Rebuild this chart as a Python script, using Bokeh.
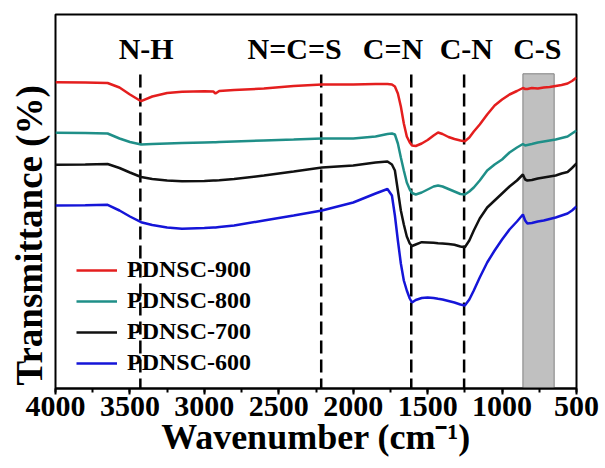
from bokeh.plotting import figure
from bokeh.models import Range1d, SingleIntervalTicker, Legend, LegendItem, Title
from bokeh.embed import file_html
from bokeh.resources import INLINE
from bokeh.core.properties import value

# ---- data (transmittance in arbitrary units, curves offset as in the figure) ----
wavenumber = [4000, 3800, 3650, 3570, 3500, 3425, 3350, 3250, 3150, 3000, 2940, 2925, 2900,
              2800, 2600, 2400, 2210, 2000, 1850, 1770, 1740, 1720, 1700, 1680, 1660, 1640,
              1620, 1605, 1580, 1540, 1500, 1460, 1430, 1400, 1360, 1320, 1280, 1250, 1220,
              1190, 1150, 1100, 1050, 1000, 950, 900, 860, 845, 830, 800, 760, 720, 680, 640,
              600, 560, 530, 500]

pdnsc_900 = [306.3, 306, 305.5, 301, 294, 287.3, 292, 295.5, 296.7, 297.3, 297, 295, 297.5,
             298.5, 300, 302.5, 304, 304, 304.5, 304.5, 304, 302, 295, 282, 265, 252,
             246, 243, 242.5, 245, 248.5, 253, 256, 254.5, 251.5, 249.5, 248, 247.3, 251,
             257, 264, 274, 283, 289, 294, 297.5, 300.5, 299.5, 299.5, 300.5, 300, 301, 301.5, 302.5,
             303.5, 305, 307.5, 311]

pdnsc_800 = [255.7, 255.5, 255, 250, 246.5, 244, 244.5, 245, 245.5, 246, 246.2, 246.2, 246.5,
             247, 248, 249, 250, 250, 252, 254.5, 255, 254, 245, 231, 218, 206,
             199, 195.5, 194, 196, 199, 202, 203, 202, 199.5, 197, 194.5, 194, 197,
             201, 208, 218, 224, 229, 236, 241, 244.5, 243, 243.5, 244.5, 246, 247, 248, 249,
             250.5, 252, 255, 258]

pdnsc_700 = [223.7, 224, 224.5, 220.5, 216, 211.5, 209.5, 208, 207.3, 207.5, 208, 208, 208.2,
             209.5, 213, 217, 221, 223, 226, 227, 224, 218, 198, 178, 164, 152,
             145, 142.5, 144, 146.3, 146, 145.7, 145.3, 145, 144.5, 143.7, 142, 141.3, 148,
             158, 170, 181, 188, 195, 202, 208, 214, 209, 208, 208.5, 210, 211, 212, 213,
             215, 216.5, 220.5, 225]

pdnsc_600 = [183, 183.2, 183.7, 178, 172, 166.3, 163.5, 161, 159.7, 160.5, 161, 161, 161.5,
             163, 168, 173, 178, 186, 195, 199.5, 193, 173, 148, 125, 108, 98,
             90, 86, 88.5, 90.5, 91, 90.5, 89.7, 89, 87.5, 86, 84, 83, 89,
             98, 111, 126, 138, 149, 159, 167, 174, 168, 165, 165.5, 167, 168, 169.5, 171,
             173, 175, 178, 182]

series_names = ["PDNSC-900", "PDNSC-800", "PDNSC-700", "PDNSC-600"]
series_values = [pdnsc_900, pdnsc_800, pdnsc_700, pdnsc_600]
series_colors = ["#e41e1e", "#1f8f88", "#111111", "#1515d8"]

peak_positions = [3430, 2215, 1610, 1255]          # dashed marker lines
cs_band = [860, 650]                               # C-S shaded region
marker_top = 314                                   # top of dashed lines (a.u.)
band_top = 314.7
peak_labels = ["N-H", "N=C=S", "C=N", "C-N", "C-S"]
peak_label_x = [3391, 2394, 1733, 1240, 763]
peak_label_y = 340

x_title = "Wavenumber (cm\u207b\u00b9)"
y_title = "Transmittance (%)"

FONT = "Liberation Serif"

p = figure(width=605, height=468, output_backend="svg", toolbar_location=None,
           x_range=Range1d(4000, 500), y_range=Range1d(0, 374),
           min_border_left=53, min_border_right=29, min_border_top=14, min_border_bottom=80)

p.background_fill_color = "white"
p.border_fill_color = "white"
p.outline_line_color = "black"
p.outline_line_width = 2
p.xgrid.visible = False
p.ygrid.visible = False
p.yaxis.visible = False

# shaded C-S band
p.quad(left=cs_band[0], right=cs_band[1], bottom=0, top=band_top,
       fill_color="#c0c0c0", line_color="#808080", line_width=1)

# dashed marker lines
p.segment(x0=peak_positions, y0=marker_top, x1=peak_positions, y1=0,
          line_color="black", line_width=2.5, line_dash="13 6")

renderers = []
for vals, col in zip(series_values, series_colors):
    r = p.line(wavenumber, vals, line_color=col, line_width=2.5)
    renderers.append(r)

# peak labels
p.text(x=peak_label_x, y=peak_label_y, text=peak_labels,
       text_font=value(FONT), text_font_style="bold", text_font_size="30px",
       text_align="center", text_baseline="alphabetic", text_color="black")

# x axis
ax = p.xaxis[0]
ax.ticker = SingleIntervalTicker(interval=500, num_minor_ticks=2)
ax.axis_line_width = 2
ax.axis_line_color = "black"
ax.major_tick_line_width = 2
ax.minor_tick_line_width = 2
ax.major_tick_in = 0
ax.major_tick_out = 6
ax.minor_tick_in = 0
ax.minor_tick_out = 4
ax.major_label_standoff = 2
ax.major_label_text_font = FONT
ax.major_label_text_font_style = "bold"
ax.major_label_text_font_size = "30px"
ax.major_label_text_color = "black"
ax.axis_label = x_title
ax.axis_label_standoff = -2
ax.axis_label_text_font = FONT
ax.axis_label_text_font_style = "bold"
ax.axis_label_text_font_size = "36px"
ax.axis_label_text_color = "black"

# y title on the left side
p.add_layout(Title(text=y_title, align="left", offset=3, standoff=12,
                   text_font=FONT, text_font_style="bold", text_font_size="37px",
                   text_color="black"), "left")

legend = Legend(items=[LegendItem(label=n, renderers=[r]) for n, r in zip(series_names, renderers)],
                location=(21, 12), padding=0, margin=0, spacing=4,
                glyph_width=41, glyph_height=26, label_height=26, label_standoff=10,
                border_line_color=None, background_fill_alpha=0,
                label_text_font=FONT, label_text_font_style="bold",
                label_text_font_size="24px", label_text_color="black")
p.add_layout(legend)

open("out.html", "w").write(file_html(p, INLINE))
